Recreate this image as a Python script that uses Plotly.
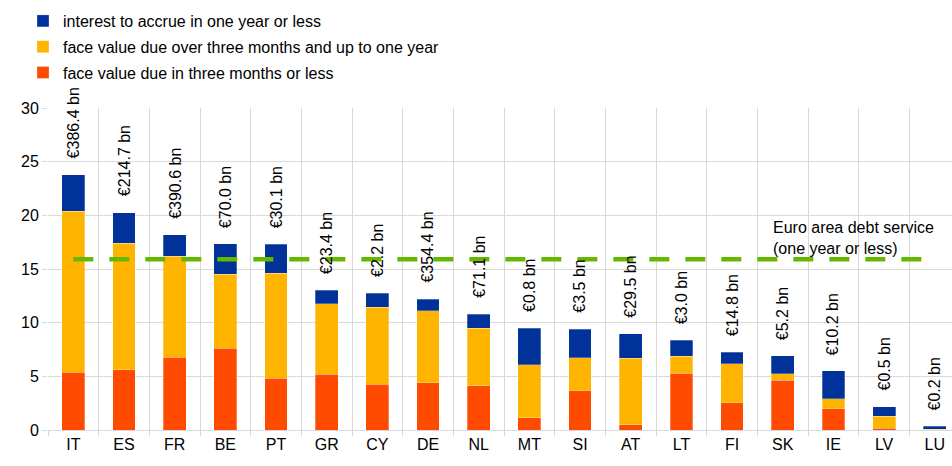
import plotly.graph_objects as go

countries = ["IT", "ES", "FR", "BE", "PT", "GR", "CY", "DE", "NL",
             "MT", "SI", "AT", "LT", "FI", "SK", "IE", "LV", "LU"]
face_3m = [5.4, 5.6, 6.8, 7.6, 4.8, 5.2, 4.25, 4.4, 4.1,
           1.15, 3.65, 0.5, 5.3, 2.55, 4.65, 2.0, 0.15, 0.02]
face_3m_1y = [15.0, 11.8, 9.4, 6.9, 9.8, 6.55, 7.2, 6.7, 5.4,
              4.95, 3.1, 6.2, 1.55, 3.6, 0.6, 0.9, 1.15, 0.03]
interest = [3.4, 2.85, 2.0, 2.85, 2.7, 1.25, 1.3, 1.1, 1.3,
            3.4, 2.65, 2.25, 1.5, 1.1, 1.65, 2.6, 0.85, 0.3]
labels = ["€386.4 bn", "€214.7 bn", "€390.6 bn", "€70.0 bn", "€30.1 bn",
          "€23.4 bn", "€2.2 bn", "€354.4 bn", "€71.1 bn", "€0.8 bn",
          "€3.5 bn", "€29.5 bn", "€3.0 bn", "€14.8 bn", "€5.2 bn",
          "€10.2 bn", "€0.5 bn", "€0.2 bn"]
euro_area = 15.9
series_names = ["face value due in three months or less",
                "face value due over three months and up to one year",
                "interest to accrue in one year or less"]

FONT = "Liberation Sans, Arial, sans-serif"
colors = ["#FF4B00", "#FFB400", "#003299"]
ranks = [3, 2, 1]

fig = go.Figure()
for i, (name, vals, col) in enumerate(zip(series_names, [face_3m, face_3m_1y, interest], colors)):
    fig.add_trace(go.Bar(
        x=countries, y=vals, name=name, width=0.45,
        legendgroup=f"g{i}", legendrank=ranks[i],
        marker=dict(color=col, line=dict(width=0.8, color="rgba(255,255,255,0.35)")),
        hoverinfo="x+y+name",
    ))

fig.add_trace(go.Scatter(
    x=countries, y=[euro_area] * len(countries), mode="lines",
    line=dict(color="#65B800", width=4.5, dash="20px,16px"),
    showlegend=False, hoverinfo="skip",
))

totals = [a + b + c for a, b, c in zip(face_3m, face_3m_1y, interest)]
annotations = []
for c, t, lab in zip(countries, totals, labels):
    annotations.append(dict(
        x=c, y=t, xref="x", yref="y", text=lab, textangle=-90,
        showarrow=False, xanchor="center", yanchor="bottom", yshift=14,
        font=dict(family=FONT, size=16, color="#000000"),
    ))
annotations.append(dict(
    x=0.8, xref="paper", y=15.95, yref="y",
    text="Euro area debt service<br>(one year or less)",
    showarrow=False, xanchor="left", yanchor="bottom", align="left",
    font=dict(family=FONT, size=16, color="#000000"),
))

fig.update_layout(
    width=952, height=466,
    barmode="stack",
    margin=dict(l=48, r=0, t=108, b=36, pad=0, autoexpand=False),
    paper_bgcolor="white", plot_bgcolor="white",
    font=dict(family=FONT, size=16, color="#000000"),
    bargap=0.55,
    legend=dict(
        orientation="v", traceorder="grouped", tracegroupgap=2,
        x=23 / 952, xref="container", xanchor="left",
        y=1 - 4 / 466, yref="container", yanchor="top",
        font=dict(family=FONT, size=16, color="#000000"),
        bgcolor="rgba(0,0,0,0)",
    ),
    annotations=annotations,
    xaxis=dict(
        type="category", range=[-0.5, 17.34], tickangle=0,
        tickson="boundaries", showgrid=True, gridcolor="#D9D9D9", gridwidth=1,
        ticks="outside", ticklen=5, tickcolor="#D9D9D9",
        showline=True, linecolor="#D9D9D9", linewidth=1,
        tickfont=dict(family=FONT, size=16, color="#000000"),
        fixedrange=True, automargin=False,
    ),
    yaxis=dict(
        range=[0, 30], dtick=5, showgrid=True, gridcolor="#D9D9D9", gridwidth=1,
        ticks="outside", ticklen=5, tickcolor="#D9D9D9",
        zeroline=False, showline=False,
        tickfont=dict(family=FONT, size=16, color="#000000"),
        fixedrange=True, automargin=False,
    ),
)

fig.write_html("out.html", config={"displayModeBar": False},
               post_script="document.body.style.margin='0';")
